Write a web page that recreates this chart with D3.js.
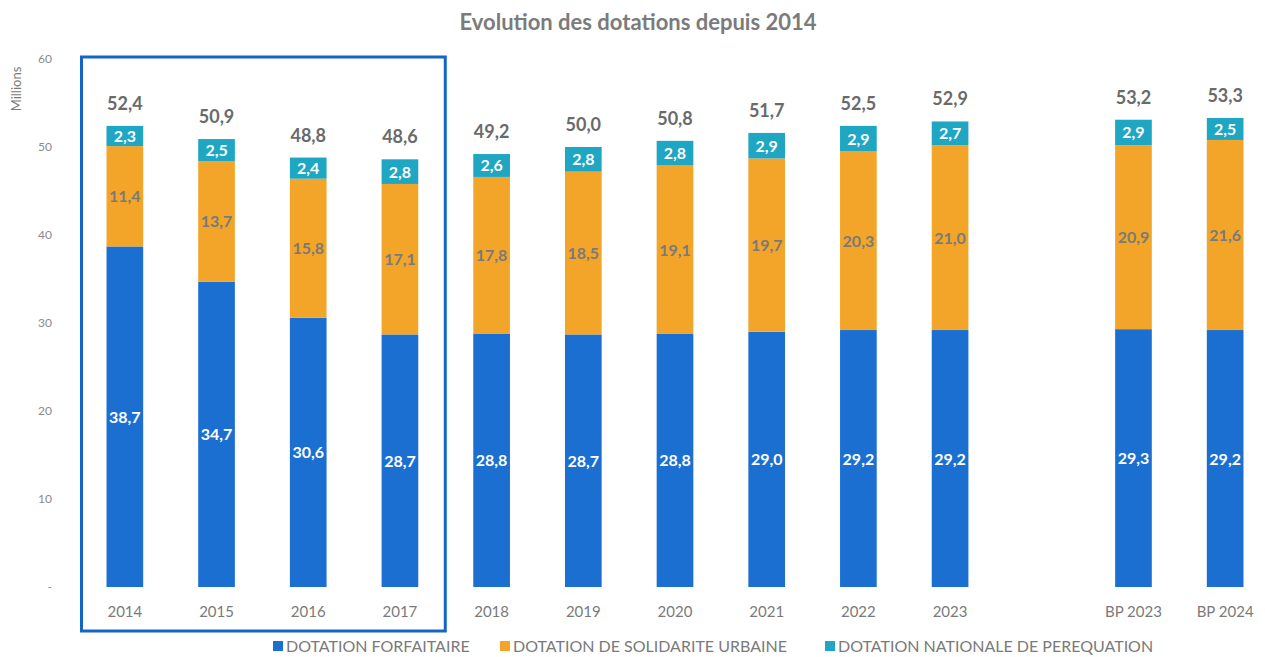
<html>
<head>
<script src="https://d3js.org/d3.v7.min.js"></script>
<style>
body { margin: 0; background: #fff; font-family: Lato, "Open Sans", sans-serif; }
</style>
</head>
<body>
<div id="chart"></div>
<script>
var width = 1265, height = 657;

var years = ["2014", "2015", "2016", "2017", "2018", "2019", "2020", "2021", "2022", "2023", "BP 2023", "BP 2024"];
var forfaitaire = [38.7, 34.7, 30.6, 28.7, 28.8, 28.7, 28.8, 29.0, 29.2, 29.2, 29.3, 29.2];
var solidarite = [11.4, 13.7, 15.8, 17.1, 17.8, 18.5, 19.1, 19.7, 20.3, 21.0, 20.9, 21.6];
var perequation = [2.3, 2.5, 2.4, 2.8, 2.6, 2.8, 2.8, 2.9, 2.9, 2.7, 2.9, 2.5];
var totals = [52.4, 50.9, 48.8, 48.6, 49.2, 50.0, 50.8, 51.7, 52.5, 52.9, 53.2, 53.3];
var yTicks = [0, 10, 20, 30, 40, 50, 60];

var seriesNames = ["DOTATION FORFAITAIRE", "DOTATION DE SOLIDARITE URBAINE", "DOTATION NATIONALE DE PEREQUATION"];
var colors = ["#1b6fd1", "#f3a529", "#1ea6c2"];
var labelColors = ["#fff", "#7a7a7a", "#fff"];

var fmt = function(v) { return v.toFixed(1).replace(".", ","); };

// a blank slot between 2023 and BP 2023
var domain = years.slice(0, 10).concat(["_gap"], years.slice(10));

var x = d3.scaleBand().domain(domain).range([79, 1271]).paddingInner(0.6).paddingOuter(0.3);
var y = d3.scaleLinear().domain([0, 60]).range([587, 59]);

var svg = d3.select("#chart").append("svg").attr("width", width).attr("height", height);

svg.append("text")
  .attr("x", 638).attr("y", 30)
  .attr("text-anchor", "middle")
  .style("font-size", "22px").style("font-weight", "bold").style("fill", "#7b7b7b")
  .text("Evolution des dotations depuis 2014");

// y axis labels
svg.selectAll(".ytick").data(yTicks).enter().append("text")
  .attr("class", "ytick")
  .attr("x", 52).attr("y", function(d) { return y(d) + 4; })
  .attr("text-anchor", "end")
  .style("font-size", "12px").style("fill", "#8a8a8a")
  .text(function(d) { return d === 0 ? "-" : d; });

svg.append("text")
  .attr("transform", "translate(21,89) rotate(-90)")
  .attr("text-anchor", "middle")
  .style("font-size", "13px").style("fill", "#7a7a7a")
  .text("Millions");

// stacked data
var rows = years.map(function(yr, i) {
  return { year: yr, vals: [forfaitaire[i], solidarite[i], perequation[i]], total: totals[i] };
});

var stack = d3.stack().keys([0, 1, 2]).value(function(d, k) { return d.vals[k]; });
var layers = stack(rows);

var g = svg.selectAll(".layer").data(layers).enter().append("g").attr("class", "layer");

g.selectAll("rect").data(function(d) { return d; }).enter().append("rect")
  .attr("x", function(d) { return x(d.data.year); })
  .attr("width", x.bandwidth())
  .attr("y", function(d) { return y(d[1]); })
  .attr("height", function(d) { return y(d[0]) - y(d[1]); })
  .style("fill", function(d, i, n) { return colors[d3.select(n[i].parentNode).datum().key]; });

g.selectAll("text").data(function(d) { return d.map(function(p) { p.key = d.key; return p; }); })
  .enter().append("text")
  .attr("x", function(d) { return x(d.data.year) + x.bandwidth() / 2; })
  .attr("y", function(d) { return (y(d[0]) + y(d[1])) / 2 + 6; })
  .attr("text-anchor", "middle")
  .style("font-size", "16px").style("font-weight", "bold")
  .style("fill", function(d) { return labelColors[d.key]; })
  .text(function(d) { return fmt(d.data.vals[d.key]); });

// totals
svg.selectAll(".total").data(rows).enter().append("text")
  .attr("class", "total")
  .attr("x", function(d) { return x(d.year) + x.bandwidth() / 2; })
  .attr("y", function(d) { return y(d3.sum(d.vals)) - 16; })
  .attr("text-anchor", "middle")
  .style("font-size", "18px").style("font-weight", "bold").style("fill", "#6a6a6a")
  .text(function(d) { return fmt(d.total); });

// x labels
svg.selectAll(".xlab").data(years).enter().append("text")
  .attr("class", "xlab")
  .attr("x", function(d) { return x(d) + x.bandwidth() / 2; })
  .attr("y", 617)
  .attr("text-anchor", "middle")
  .style("font-size", "15px").style("fill", "#7a7a7a")
  .text(function(d) { return d; });

// box around 2014-2017
var boxLeft = x("2014") - 25, boxRight = x("2017") + x.bandwidth() + 27;
svg.append("rect")
  .attr("x", boxLeft).attr("y", 57)
  .attr("width", boxRight - boxLeft).attr("height", 574)
  .style("fill", "none").style("stroke", "#1565c6").style("stroke-width", 3);

// legend
var legendX = [273, 500, 825];
var leg = svg.selectAll(".leg").data(seriesNames).enter().append("g")
  .attr("class", "leg")
  .attr("transform", function(d, i) { return "translate(" + legendX[i] + ",652)"; });
leg.append("rect").attr("x", 0).attr("y", -11).attr("width", 10).attr("height", 10)
  .style("fill", function(d, i) { return colors[i]; });
leg.append("text").attr("x", 13).attr("y", 0)
  .style("font-size", "16px").style("fill", "#7a7a7a")
  .text(function(d) { return d; });
</script>
</body>
</html>
